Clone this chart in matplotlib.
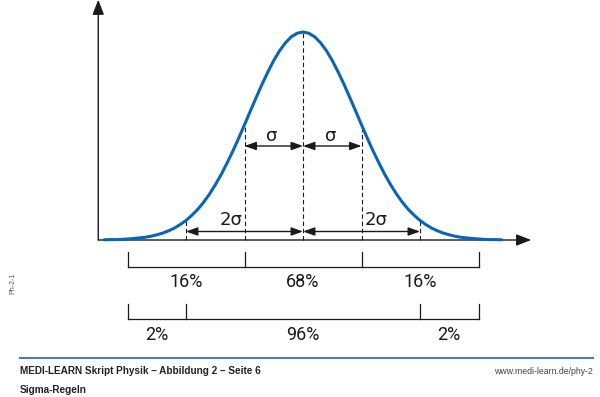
import matplotlib
matplotlib.use("Agg")
import matplotlib.pyplot as plt

# curve heights, x in units of sigma, peak = 1
curve_x = [-3.4, -3.3, -3.2, -3.1, -3.0, -2.9, -2.8, -2.7, -2.6, -2.5, -2.4, -2.3,
           -2.2, -2.1, -2.0, -1.9, -1.8, -1.7, -1.6, -1.5, -1.4, -1.3, -1.2, -1.1,
           -1.0, -0.9, -0.8, -0.7, -0.6, -0.5, -0.4, -0.3, -0.2, -0.1, 0.0,
           0.1, 0.2, 0.3, 0.4, 0.5, 0.6, 0.7, 0.8, 0.9, 1.0,
           1.1, 1.2, 1.3, 1.4, 1.5, 1.6, 1.7, 1.8, 1.9, 2.0, 2.1, 2.2,
           2.3, 2.4, 2.5, 2.6, 2.7, 2.8, 2.9, 3.0, 3.1, 3.2, 3.3, 3.4]
curve_y = [0.001, 0.002, 0.002, 0.003, 0.005, 0.007, 0.010, 0.013, 0.018, 0.025, 0.033, 0.044,
           0.057, 0.074, 0.094, 0.119, 0.147, 0.181, 0.220, 0.265, 0.314, 0.369, 0.427, 0.489,
           0.554, 0.620, 0.685, 0.749, 0.808, 0.863, 0.910, 0.948, 0.977, 0.994, 1.000,
           0.994, 0.977, 0.948, 0.910, 0.863, 0.808, 0.749, 0.685, 0.620, 0.554,
           0.489, 0.427, 0.369, 0.314, 0.265, 0.220, 0.181, 0.147, 0.119, 0.094, 0.074, 0.057,
           0.044, 0.033, 0.025, 0.018, 0.013, 0.010, 0.007, 0.005, 0.003, 0.002, 0.002, 0.001]

sigma_marks = [-2, -1, 0, 1, 2]

row1_edges = [-3, -1, 1, 3]
row1_labels = ["16%", "68%", "16%"]
row2_edges = [-3, -2, 2, 3]
row2_labels = ["2%", "96%", "2%"]

blue = "#0866b6"
ink = "#1a1a1a"
pct_font = ["Roboto", "DejaVu Sans"]
foot_font = ["Liberation Sans", "DejaVu Sans"]

fig = plt.figure(figsize=(6, 3.97), dpi=100)
ax = fig.add_axes([0, 0, 1, 1])
ax.set_xlim(-303 / 58.5, 297 / 58.5)
ax.set_ylim(-157 / 208, 240 / 208)
ax.axis("off")

def height_at(x):
    return curve_y[curve_x.index(x)]

# axes with arrow heads
ax.annotate("", xy=(-3.5, 1.155), xytext=(-3.5, 0),
            arrowprops=dict(arrowstyle="-|>,head_length=0.9,head_width=0.35",
                            color=ink, lw=1.0, shrinkA=0, shrinkB=0))
ax.annotate("", xy=(3.9, 0), xytext=(-3.5, 0),
            arrowprops=dict(arrowstyle="-|>,head_length=0.9,head_width=0.35",
                            color=ink, lw=1.0, shrinkA=0, shrinkB=0))

# dashed marker lines up to the curve
for m in sigma_marks:
    ax.plot([m, m], [0, height_at(m)], color=ink, lw=0.8, ls=(0, (4, 2.5)))

ax.plot(curve_x, curve_y, color=blue, lw=2.2, solid_capstyle="round",
        solid_joinstyle="round", zorder=5)

def dbl_arrow(x0, x1, y):
    ax.annotate("", xy=(x1, y), xytext=(x0, y),
                arrowprops=dict(arrowstyle="<|-|>,head_length=0.7,head_width=0.25",
                                color=ink, lw=1.0, shrinkA=0, shrinkB=0))

# sigma arrows
y_s = 94 / 208
dbl_arrow(-1, 0, y_s)
dbl_arrow(0, 1, y_s)
ax.text(-0.53, 0.50, "σ", ha="center", va="center", fontsize=13, color=ink)
ax.text(0.47, 0.50, "σ", ha="center", va="center", fontsize=13, color=ink)

# 2 sigma arrows
y_2s = 8.5 / 208
dbl_arrow(-2, 0, y_2s)
dbl_arrow(0, 2, y_2s)
ax.text(-1.04, 0.098, "2σ", ha="right", va="center", fontsize=13, color=ink)
ax.text(1.05, 0.098, "2σ", ha="left", va="center", fontsize=13, color=ink)

def bracket_row(edges, labels, y_top, y_line, y_text):
    ax.plot([edges[0], edges[-1]], [y_line, y_line], color=ink, lw=0.9)
    for e in edges:
        ax.plot([e, e], [y_top, y_line], color=ink, lw=0.9)
    for i, lab in enumerate(labels):
        xc = (edges[i] + edges[i + 1]) / 2
        ax.text(xc, y_text, lab, ha="center", va="baseline", fontsize=13,
                color=ink, family=pct_font)

bracket_row(row1_edges, row1_labels, -12 / 208, -26.7 / 208, -46.7 / 208)
bracket_row(row2_edges, row2_labels, -64 / 208, -79 / 208, -100 / 208)

# footer
fig.add_artist(plt.Line2D([20 / 600, 593 / 600], [1 - 357.7 / 397] * 2,
                          color="#4a7cc0", lw=1.5))
fig.text(20 / 600, 1 - 371 / 397, "MEDI-LEARN Skript Physik – Abbildung 2 – Seite 6",
         ha="left", va="center", fontsize=7.2, fontweight="bold",
         family=foot_font, color="#222222")
fig.text(20 / 600, 1 - 390 / 397, "Sigma-Regeln", ha="left", va="center",
         fontsize=7.2, fontweight="bold", family=foot_font, color="#222222")
fig.text(593 / 600, 1 - 372 / 397, "www.medi-learn.de/phy-2", ha="right", va="center",
         fontsize=6.3, family=foot_font, color="#444444")
fig.text(13 / 600, 1 - 283 / 397, "Ph-2-1", ha="center", va="center", rotation=90,
         fontsize=5, family=foot_font, color="#555555")

fig.savefig("out.png", dpi=100)
